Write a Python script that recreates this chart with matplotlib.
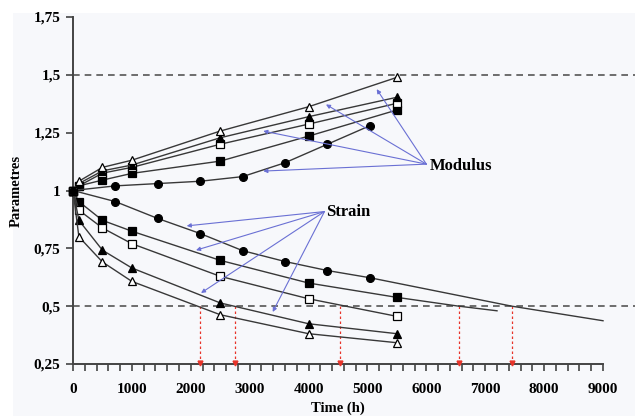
import matplotlib
matplotlib.use("Agg")
import matplotlib.pyplot as plt
from matplotlib.patches import Rectangle
from matplotlib.ticker import FixedLocator

plt.rcParams['font.family'] = ['Liberation Serif', 'DejaVu Serif']
plt.rcParams['font.weight'] = 'bold'

# ---- data -------------------------------------------------------------
t_std = [0, 100, 500, 1000, 2500, 4000, 5500]
t_circ = [0, 720, 1440, 2160, 2880, 3600, 4320, 5040]

# modulus (normalised)
mod_open_tri = [1.00, 1.04, 1.100, 1.131, 1.257, 1.362, 1.489]
mod_fill_tri = [1.00, 1.03, 1.085, 1.110, 1.228, 1.319, 1.403]
mod_open_sq = [1.00, 1.02, 1.075, 1.100, 1.200, 1.287, 1.377]
mod_fill_sq = [1.00, 1.02, 1.045, 1.074, 1.127, 1.235, 1.348]
mod_circ = [1.00, 1.02, 1.03, 1.04, 1.06, 1.12, 1.20, 1.28]

# strain (normalised)
str_fill_sq = [1.00, 0.952, 0.871, 0.824, 0.698, 0.600, 0.538]
str_open_sq = [1.00, 0.915, 0.838, 0.770, 0.629, 0.532, 0.456]
str_fill_tri = [1.00, 0.871, 0.742, 0.665, 0.514, 0.424, 0.381]
str_open_tri = [1.00, 0.800, 0.691, 0.607, 0.463, 0.381, 0.342]
str_circ = [1.00, 0.952, 0.879, 0.814, 0.740, 0.693, 0.654, 0.623]

# extrapolated strain trends
ext_circ_t = [5040, 7450, 9000]
ext_circ_v = [0.623, 0.500, 0.437]
ext_sq_t = [5500, 6550, 7200]
ext_sq_v = [0.538, 0.500, 0.480]

# times where strain reaches 50 %
half_times = [2150, 2750, 4530, 6550, 7450]

x_ticks = [0, 1000, 2000, 3000, 4000, 5000, 6000, 7000, 8000, 9000]
y_ticks = [0.25, 0.5, 0.75, 1.0, 1.25, 1.5, 1.75]
y_labels = ['0,25', '0,5', '0,75', '1', '1,25', '1,5', '1,75']

# annotation arrows
mod_origin = (6000, 1.114)
mod_targets = [(5157, 1.438), (4296, 1.372), (3231, 1.257), (3231, 1.084)]
str_origin = (4270, 0.909)
str_targets = [(1931, 0.847), (2089, 0.742), (2174, 0.557), (3391, 0.475)]

# ---- figure -----------------------------------------------------------
W, H = 635, 416
fig = plt.figure(figsize=(W / 100, H / 100), dpi=100, facecolor='white')
fig.patches.append(Rectangle((13 / W, 0), 1 - 13 / W, 1 - 13 / H,
                             transform=fig.transFigure, facecolor='#f7f8fb',
                             edgecolor='none', zorder=-10))

ax = fig.add_axes([73 / W, 52 / H, (W - 73) / W, 347 / H])
ax.set_facecolor('none')
ax.set_xlim(0, 9543)
ax.set_ylim(0.25, 1.75)

line_kw = dict(color='#383838', lw=1.0)
ms = 5.6

def series(t, v, marker, filled):
    ax.plot(t, v, marker=marker, markersize=ms,
            markerfacecolor='black' if filled else 'white',
            markeredgecolor='black', markeredgewidth=0.9,
            clip_on=False, zorder=3, **line_kw)

series(t_std, mod_fill_sq, 's', True)
series(t_std, mod_open_sq, 's', False)
series(t_std, mod_fill_tri, '^', True)
series(t_std, mod_open_tri, '^', False)
series(t_circ, mod_circ, 'o', True)

ax.plot(ext_circ_t, ext_circ_v, zorder=2, **line_kw)
ax.plot(ext_sq_t, ext_sq_v, zorder=2, **line_kw)
series(t_std, str_fill_sq, 's', True)
series(t_std, str_open_sq, 's', False)
series(t_std, str_fill_tri, '^', True)
series(t_std, str_open_tri, '^', False)
series(t_circ, str_circ, 'o', True)

# reference levels
for lvl in (0.5, 1.5):
    ax.axhline(lvl, color='#555555', lw=1.2, ls=(0, (4, 3)), zorder=1)

# 50 % crossing markers
red = '#e8342a'
for ht in half_times:
    ax.plot([ht, ht], [0.5, 0.25], color=red, lw=0.9, ls=(0, (2, 2)), zorder=1)
    ax.plot([ht], [0.255], marker='v', color=red, markersize=3.5,
            clip_on=False, zorder=4)

# annotation arrows
blue = '#6a70d4'
for tgt in mod_targets:
    ax.annotate('', xy=tgt, xytext=mod_origin,
                arrowprops=dict(arrowstyle='-|>', color=blue, lw=0.8,
                                mutation_scale=6, shrinkA=0, shrinkB=0))
for tgt in str_targets:
    ax.annotate('', xy=tgt, xytext=str_origin,
                arrowprops=dict(arrowstyle='-|>', color=blue, lw=0.8,
                                mutation_scale=6, shrinkA=0, shrinkB=0))
ax.text(mod_origin[0] + 50, mod_origin[1] - 0.01, 'Modulus', fontsize=12,
        fontweight='bold', va='center', ha='left')
ax.text(str_origin[0] + 30, str_origin[1], 'Strain', fontsize=12,
        fontweight='bold', va='center', ha='left')

# axes styling
for side in ('top', 'right'):
    ax.spines[side].set_visible(False)
for side in ('left', 'bottom'):
    ax.spines[side].set_color('#444444')
    ax.spines[side].set_linewidth(1.4)
ax.spines['bottom'].set_bounds(0, 9000)

ax.xaxis.set_major_locator(FixedLocator(x_ticks))
ax.xaxis.set_minor_locator(FixedLocator([v for v in range(0, 9001, 200)
                                         if v % 1000]))
ax.yaxis.set_major_locator(FixedLocator(y_ticks))
ax.set_yticklabels(y_labels)
ax.tick_params(axis='x', which='both', direction='out', length=5, width=1.2,
               color='#444444', pad=9, labelsize=11)
ax.tick_params(axis='y', direction='out', length=5, width=1.2,
               color='#444444', pad=4, labelsize=11)
for lab in ax.get_xticklabels() + ax.get_yticklabels():
    lab.set_fontweight('bold')

ax.set_xlabel('Time (h)', fontsize=10.5, fontweight='bold')
ax.xaxis.set_label_coords(4500 / 9543, -0.108)
ax.set_ylabel('Parametres', fontsize=10.5, fontweight='bold')
ax.yaxis.set_label_coords(-0.09, 0.5)

fig.savefig('out.png', dpi=100, facecolor='white')
